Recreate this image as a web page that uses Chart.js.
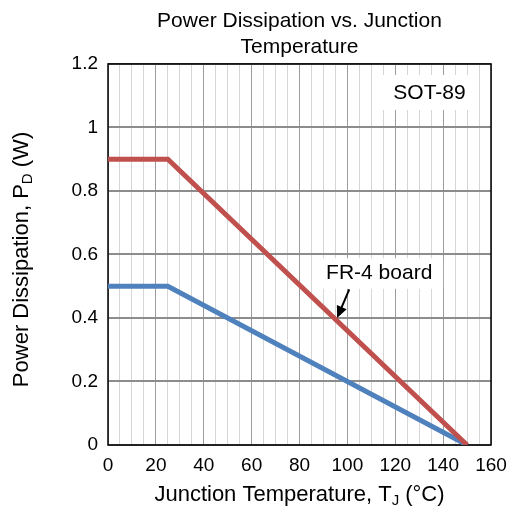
<!DOCTYPE html>
<html>
<head>
<meta charset="utf-8">
<title>Power Dissipation vs. Junction Temperature</title>
<script src="https://cdn.jsdelivr.net/npm/chart.js@4.4.1/dist/chart.umd.min.js"></script>
<style>
    html, body { margin: 0; padding: 0; background: #fff; }
    #wrap { width: 517px; height: 512px; }
</style>
</head>
<body>
<div id="wrap"><canvas id="pdChart" width="517" height="512"></canvas></div>
<script>
// -----------------------------
// Data
// -----------------------------
const junctionTemps = [0, 25, 150];          // °C, corner points of the derating curves
const fr4Power = [0.9, 0.9, 0];              // W, red curve
const lowerPower = [0.5, 0.5, 0];            // W, blue curve
const xTickLabels = [0, 20, 40, 60, 80, 100, 120, 140, 160];
const yTickLabels = [0, 0.2, 0.4, 0.6, 0.8, 1, 1.2];

const FONT = "'Liberation Sans', Arial, sans-serif";

function toPoints(xs, ys) {
    return xs.map((x, i) => ({ x: x, y: ys[i] }));
}

// draws a string made of normal / subscript pieces, centred at (cx, cy)
function drawRichText(ctx, parts, cx, cy, size) {
    const subSize = Math.round(size * 0.66);
    let total = 0;
    parts.forEach(p => {
        ctx.font = (p.sub ? subSize : size) + 'px ' + FONT;
        p.w = ctx.measureText(p.t).width;
        total += p.w;
    });
    let x = cx - total / 2;
    ctx.textBaseline = 'middle';
    ctx.textAlign = 'left';
    parts.forEach(p => {
        ctx.font = (p.sub ? subSize : size) + 'px ' + FONT;
        ctx.fillText(p.t, x, p.sub ? cy + size * 0.28 : cy);
        x += p.w;
    });
}

// -----------------------------
// Frame, notes and axis titles
// -----------------------------
const decorPlugin = {
    id: 'decor',
    beforeDatasetsDraw(chart) {
        const ctx = chart.ctx;
        const xs = chart.scales.x, ys = chart.scales.y;
        ctx.save();

        // SOT-89 box
        const bx1 = xs.getPixelForValue(114.5), bx2 = xs.getPixelForValue(153.3);
        const by1 = ys.getPixelForValue(1.165), by2 = ys.getPixelForValue(1.055);
        ctx.fillStyle = '#fff';
        ctx.fillRect(bx1, by1, bx2 - bx1, by2 - by1);
        ctx.fillStyle = '#000';
        ctx.font = '21px ' + FONT;
        ctx.textAlign = 'center';
        ctx.textBaseline = 'middle';
        ctx.fillText('SOT-89', (bx1 + bx2) / 2 + 1, (by1 + by2) / 2 + 1);

        // FR-4 board note
        const fx1 = xs.getPixelForValue(87.5), fx2 = xs.getPixelForValue(140);
        const fy1 = ys.getPixelForValue(0.588), fy2 = ys.getPixelForValue(0.492);
        ctx.fillStyle = '#fff';
        ctx.fillRect(fx1, fy1, fx2 - fx1, fy2 - fy1);
        ctx.fillStyle = '#000';
        ctx.fillText('FR-4 board', xs.getPixelForValue(113.3), ys.getPixelForValue(0.542));

        // arrow
        const ax1 = xs.getPixelForValue(100.8), ay1 = ys.getPixelForValue(0.49);
        const ax2 = xs.getPixelForValue(95.7), ay2 = ys.getPixelForValue(0.40);
        const ang = Math.atan2(ay2 - ay1, ax2 - ax1);
        const head = 13;
        ctx.strokeStyle = '#000';
        ctx.lineWidth = 2;
        ctx.beginPath();
        ctx.moveTo(ax1, ay1);
        ctx.lineTo(ax2 - Math.cos(ang) * head * 0.8, ay2 - Math.sin(ang) * head * 0.8);
        ctx.stroke();
        ctx.beginPath();
        ctx.moveTo(ax2, ay2);
        ctx.lineTo(ax2 - head * Math.cos(ang - 0.42), ay2 - head * Math.sin(ang - 0.42));
        ctx.lineTo(ax2 - head * Math.cos(ang + 0.42), ay2 - head * Math.sin(ang + 0.42));
        ctx.closePath();
        ctx.fill();

        // plot frame
        const a = chart.chartArea;
        ctx.strokeStyle = '#000';
        ctx.lineWidth = 1.5;
        ctx.strokeRect(a.left, a.top, a.right - a.left, a.bottom - a.top);
        ctx.restore();
    },
    afterDraw(chart) {
        const ctx = chart.ctx;
        const a = chart.chartArea;
        ctx.save();
        ctx.fillStyle = '#000';
        drawRichText(ctx, [
            { t: 'Junction Temperature, T' },
            { t: 'J', sub: true },
            { t: ' (°C)' }
        ], (a.left + a.right) / 2, 495, 22);

        ctx.translate(22, (a.top + a.bottom) / 2 + 5);
        ctx.rotate(-Math.PI / 2);
        drawRichText(ctx, [
            { t: 'Power Dissipation, P' },
            { t: 'D', sub: true },
            { t: ' (W)' }
        ], 0, 0, 22);
        ctx.restore();
    }
};

// -----------------------------
// Chart
// -----------------------------
const ctx = document.getElementById('pdChart').getContext('2d');
const pdChart = new Chart(ctx, {
    type: 'line',
    data: {
        datasets: [
            { label: 'FR-4 board', data: toPoints(junctionTemps, fr4Power), borderColor: '#c0504d', borderWidth: 5, pointRadius: 0, fill: false, tension: 0 },
            { label: 'Lower', data: toPoints(junctionTemps, lowerPower), borderColor: '#4f81bd', borderWidth: 5, pointRadius: 0, fill: false, tension: 0 }
        ]
    },
    options: {
        responsive: false,
        animation: false,
        layout: { padding: 0 },
        plugins: {
            legend: { display: false },
            tooltip: { enabled: false },
            title: {
                display: true,
                fullSize: false,
                text: ['Power Dissipation vs. Junction', 'Temperature'],
                color: '#000',
                font: { family: FONT, size: 21, weight: 'normal', lineHeight: 1.26 },
                padding: { top: 8, bottom: 3 }
            }
        },
        scales: {
            x: {
                type: 'linear',
                min: 0,
                max: 160,
                afterFit(scale) { scale.height = 67; scale.paddingRight = 26; },
                afterBuildTicks(scale) {
                    scale.ticks = [];
                    for (let v = 0; v <= 160; v += 5) scale.ticks.push({ value: v });
                },
                ticks: {
                    autoSkip: false,
                    maxRotation: 0,
                    padding: 9,
                    color: '#000',
                    font: { family: FONT, size: 19 },
                    callback: v => (xTickLabels.includes(v) ? String(v) : '')
                },
                grid: {
                    drawTicks: false,
                    lineWidth: 1,
                    color: c => (c.tick && c.tick.value % 20 === 0 ? '#9c9c9c' : '#d6d6d6')
                },
                border: { display: false }
            },
            y: {
                min: 0,
                max: 1.2,
                afterFit(scale) { scale.width = 108; },
                afterBuildTicks(scale) {
                    scale.ticks = yTickLabels.map(v => ({ value: v }));
                },
                ticks: {
                    padding: 10,
                    color: '#000',
                    font: { family: FONT, size: 19 },
                    callback: v => String(Math.round(v * 10) / 10)
                },
                grid: {
                    drawTicks: false,
                    lineWidth: 2,
                    color: '#8c8c8c'
                },
                border: { display: false }
            }
        }
    },
    plugins: [decorPlugin]
});
</script>
</body>
</html>
